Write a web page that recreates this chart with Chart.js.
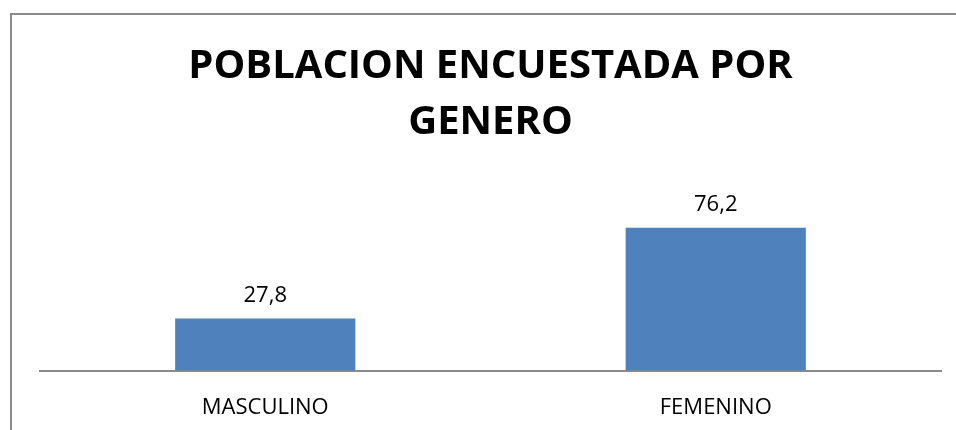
<!DOCTYPE html>
<html>
<head>
<meta charset="utf-8">
<script src="https://cdn.jsdelivr.net/npm/chart.js@4"></script>
<style>
  body { margin: 0; background: #fff; overflow: hidden; }
  #marco { position: absolute; left: 10px; top: 13px; width: 960px; height: 430px;
           border-left: 2px solid #8a8a8a; border-top: 2px solid #8a8a8a; }
  #wrap { position: absolute; left: 0; top: 0; width: 956px; height: 430px; }
</style>
</head>
<body>
<div id="marco"></div>
<div id="wrap"><canvas id="myChart"></canvas></div>
<script>
const categorias = ['MASCULINO', 'FEMENINO'];
const valores = [27.8, 76.2];
const titulo = ['POBLACION ENCUESTADA POR', 'GENERO'];

// etiquetas de valor encima de cada barra (coma decimal)
const etiquetas = {
    id: 'etiquetas',
    afterDatasetsDraw(chart) {
        const ctx = chart.ctx;
        ctx.save();
        ctx.font = '22px "Open Sans"';
        ctx.fillStyle = '#000';
        ctx.textAlign = 'center';
        ctx.textBaseline = 'middle';
        chart.getDatasetMeta(0).data.forEach((bar, i) => {
            ctx.fillText(valores[i].toFixed(1).replace('.', ','), bar.x, bar.y - 23);
        });
        ctx.restore();
    }
};

const ctx = document.getElementById('myChart').getContext('2d');
new Chart(ctx, {
    type: 'bar',
    data: {
        labels: categorias,
        datasets: [{
            data: valores,
            backgroundColor: '#4F81BD',
            borderWidth: 0,
            barPercentage: 0.4,
            categoryPercentage: 1
        }]
    },
    plugins: [etiquetas],
    options: {
        responsive: true,
        maintainAspectRatio: false,
        animation: false,
        layout: { padding: { left: 40, right: 15, top: 0, bottom: 0 } },
        plugins: {
            legend: { display: false },
            tooltip: { enabled: false },
            title: {
                display: true,
                text: titulo,
                color: '#000',
                font: { family: '"Open Sans"', size: 40, weight: 'bold', lineHeight: 1.4 },
                padding: { top: 39, bottom: 32 }
            }
        },
        scales: {
            x: {
                grid: { display: false },
                border: { display: true, color: '#8a8a8a', width: 2 },
                ticks: { color: '#000', padding: 16, font: { family: '"Open Sans"', size: 22 } },
                afterFit(scale) { scale.height = 59.5; }
            },
            y: {
                display: false,
                min: 0,
                max: 100
            }
        }
    }
});
</script>
</body>
</html>
